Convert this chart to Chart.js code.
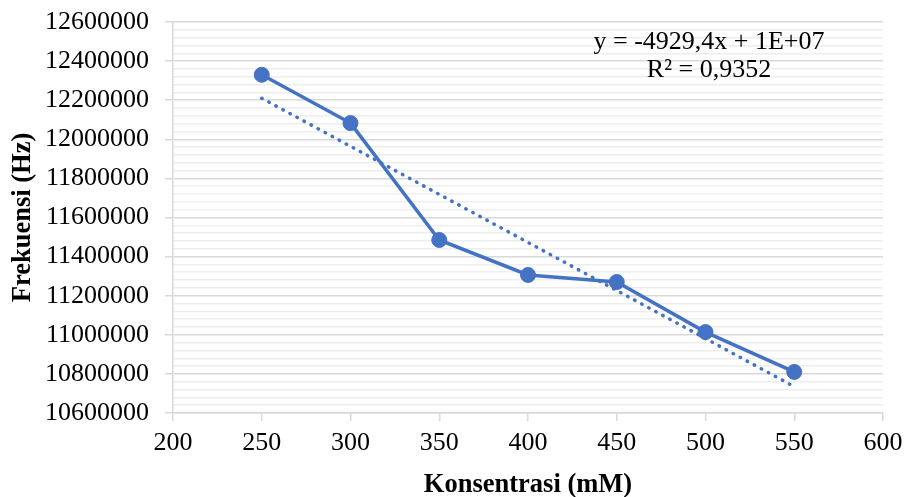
<!DOCTYPE html>
<html>
<head>
<meta charset="utf-8">
<script src="https://cdn.jsdelivr.net/npm/chart.js@4.4.0/dist/chart.umd.min.js"></script>
<style>
  html, body { margin: 0; padding: 0; background: #fff; }
  #wrap { width: 905px; height: 497px; }
</style>
</head>
<body>
<div id="wrap"><canvas id="chart" width="905" height="497"></canvas></div>
<script>
// data
const konsentrasi = [250, 300, 350, 400, 450, 500, 550];
const frekuensi = [12330000, 12083000, 11485000, 11306000, 11270000, 11014000, 10810000];
// linear trendline endpoints
const trendX = [250, 550];
const trendY = [12210000, 10735000];
const equationLines = ["y = -4929,4x + 1E+07", "R\u00b2 = 0,9352"];

const blue = "#4472C4";
const serif = "'Liberation Serif', 'Times New Roman', serif";

const equationPlugin = {
  id: "equation",
  afterDatasetsDraw(chart) {
    const { ctx, chartArea } = chart;
    ctx.save();
    ctx.font = "26px " + serif;
    ctx.fillStyle = "#000";
    ctx.textAlign = "center";
    ctx.textBaseline = "alphabetic";
    const cx = chartArea.right - 174;
    ctx.fillText(equationLines[0], cx, chartArea.top + 27);
    ctx.fillText(equationLines[1], cx, chartArea.top + 55);
    ctx.restore();
  }
};

new Chart(document.getElementById("chart"), {
  type: "scatter",
  data: {
    datasets: [
      {
        label: "Frekuensi",
        data: konsentrasi.map((x, i) => ({ x: x, y: frekuensi[i] })),
        showLine: true,
        borderColor: blue,
        backgroundColor: blue,
        borderWidth: 3.5,
        pointRadius: 7.5,
        pointBorderWidth: 1,
        pointHoverRadius: 7.5,
        order: 1
      },
      {
        label: "Linear",
        data: trendX.map((x, i) => ({ x: x, y: trendY[i] })),
        showLine: true,
        borderColor: blue,
        borderWidth: 3.5,
        borderDash: [0.5, 7.5],
        borderCapStyle: "round",
        pointRadius: 0,
        order: 2
      }
    ]
  },
  options: {
    responsive: false,
    animation: false,
    layout: { padding: { top: 22, right: 22, left: 0, bottom: 0 } },
    plugins: {
      legend: { display: false },
      tooltip: { enabled: false }
    },
    scales: {
      x: {
        type: "linear",
        min: 200,
        max: 600,
        ticks: {
          stepSize: 50,
          color: "#000",
          font: { family: serif, size: 26 },
          padding: 7
        },
        grid: {
          drawOnChartArea: false,
          tickLength: 8,
          color: "#d9d9d9",
          lineWidth: 1.5
        },
        border: { color: "#d9d9d9", width: 1.5 },
        title: {
          display: true,
          text: "Konsentrasi (mM)",
          color: "#000",
          font: { family: serif, size: 26.5, weight: "bold" },
          padding: { top: 0, bottom: -4 }
        },
        afterFit(scale) {
          scale.height = 84;
          scale.paddingLeft = 0;
          scale.paddingRight = 0;
        }
      },
      y: {
        min: 10600000,
        max: 12600000,
        ticks: {
          stepSize: 40000,
          autoSkip: false,
          color: "#000",
          font: { family: serif, size: 26 },
          padding: 16,
          callback: (v) => (v % 200000 === 0 ? String(v) : "")
        },
        grid: {
          tickLength: 8,
          color: (c) => (c.tick && c.tick.value % 200000 === 0 ? "#d9d9d9" : "#eeeeee"),
          tickColor: (c) => (c.tick && c.tick.value % 200000 === 0 ? "#d9d9d9" : "rgba(0,0,0,0)"),
          lineWidth: 1.5
        },
        border: { color: "#d9d9d9", width: 1.5 },
        title: {
          display: true,
          text: "Frekuensi (Hz)",
          color: "#000",
          font: { family: serif, size: 26.5, weight: "bold" },
          padding: { top: 7, bottom: 0 }
        },
        afterFit(scale) {
          scale.width = 173;
          scale.paddingTop = 0;
          scale.paddingBottom = 0;
        }
      }
    }
  },
  plugins: [equationPlugin]
});
</script>
</body>
</html>
